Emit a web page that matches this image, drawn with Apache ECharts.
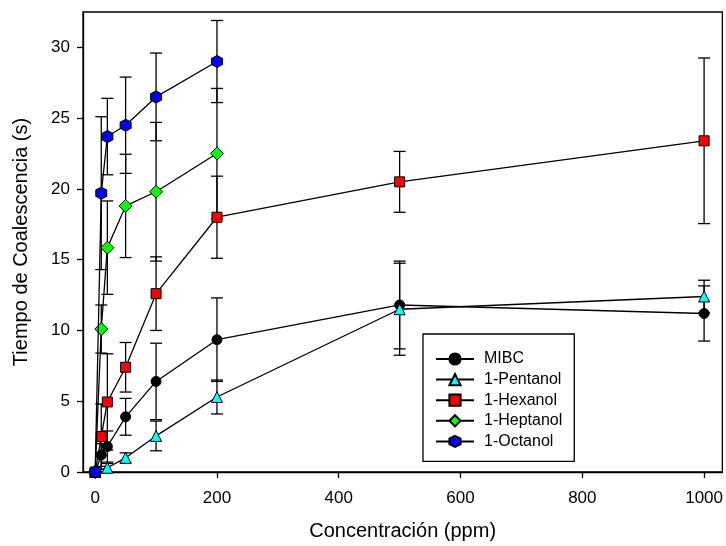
<!DOCTYPE html>
<html>
<head>
<meta charset="utf-8">
<script src="https://cdn.jsdelivr.net/npm/echarts@6/dist/echarts.min.js"></script>
<style>html,body{margin:0;padding:0;background:#fff;}#c{width:726px;height:546px;}</style>
</head>
<body>
<div id="c"></div>
<script>
// ---- data ----
const xTicks = [0, 200, 400, 600, 800, 1000];
const yTicks = [0, 5, 10, 15, 20, 25, 30];
const seriesNames = ['MIBC', '1-Pentanol', '1-Hexanol', '1-Heptanol', '1-Octanol'];

const concMIBC = [0, 10, 20, 50, 100, 200, 500, 1000];
const mibc     = [0, 1.2, 1.8, 3.9, 6.4, 9.35, 11.8, 11.2];
const mibcErr  = [0, 0.8, 1.1, 1.3, 2.7, 2.95, 3.1, 1.95];

const concPent = [0, 20, 50, 100, 200, 500, 1000];
const pent     = [0, 0.3, 1.0, 2.55, 5.3, 11.5, 12.4];
const pentErr  = [0, 0.3, 0.35, 1.05, 1.2, 3.25, 1.15];

const concHex  = [0, 10, 20, 50, 100, 200, 500, 1000];
const hex      = [0, 2.5, 4.95, 7.4, 12.6, 18.0, 20.5, 23.4];
const hexErr   = [0, 2.3, 3.4, 1.75, 2.6, 2.9, 2.15, 5.85];

const concHept = [0, 10, 20, 50, 100, 200];
const hept     = [0, 10.1, 15.85, 18.8, 19.8, 22.5];
const heptErr  = [0, 1.7, 3.3, 3.65, 4.9, 4.6];

const concOct  = [0, 10, 20, 50, 100, 200];
const oct      = [0, 19.7, 23.7, 24.5, 26.5, 29.0];
const octErr   = [0, 5.4, 2.7, 3.4, 3.1, 2.9];

// ---- styles ----
const FONT = '"Liberation Sans", Arial, sans-serif';
const hexagon = 'path://M0,-1 L0.866,-0.5 L0.866,0.5 L0,1 L-0.866,0.5 L-0.866,-0.5 Z';
const groups = [
  {name: seriesNames[0], x: concMIBC, y: mibc, e: mibcErr, color: '#000000', symbol: 'circle', size: 10},
  {name: seriesNames[1], x: concPent, y: pent, e: pentErr, color: '#00ffff', symbol: 'triangle', size: 11},
  {name: seriesNames[2], x: concHex, y: hex, e: hexErr, color: '#ff0000', symbol: 'rect', size: 10},
  {name: seriesNames[3], x: concHept, y: hept, e: heptErr, color: '#00ff00', symbol: 'diamond', size: 13},
  {name: seriesNames[4], x: concOct, y: oct, e: octErr, color: '#0000ff', symbol: hexagon, size: [11, 12]}
];

const series = [];
groups.forEach(function (g) {
  series.push({
    type: 'custom',
    name: g.name + ' err',
    z: 1,
    silent: true,
    data: g.x.map(function (xv, i) { return [xv, g.y[i], g.e[i]]; }),
    renderItem: function (params, api) {
      const xv = api.value(0), yv = api.value(1), ev = api.value(2);
      if (!ev) return null;
      const top = api.coord([xv, yv + ev]);
      const bot = api.coord([xv, yv - ev]);
      const hw = 6;
      const st = {stroke: '#000', lineWidth: 1.3};
      return {
        type: 'group',
        children: [
          {type: 'line', shape: {x1: top[0], y1: top[1], x2: bot[0], y2: bot[1]}, style: st},
          {type: 'line', shape: {x1: top[0] - hw, y1: top[1], x2: top[0] + hw, y2: top[1]}, style: st},
          {type: 'line', shape: {x1: bot[0] - hw, y1: bot[1], x2: bot[0] + hw, y2: bot[1]}, style: st}
        ]
      };
    }
  });
});
groups.forEach(function (g, gi) {
  series.push({
    type: 'line',
    name: g.name,
    z: 3 + gi,
    data: g.x.map(function (xv, i) { return [xv, g.y[i]]; }),
    symbol: g.symbol,
    symbolSize: g.size,
    showAllSymbol: true,
    animation: false,
    lineStyle: {color: '#000', width: 1.3},
    itemStyle: {color: g.color, borderColor: '#000', borderWidth: 1},
    emphasis: {disabled: true}
  });
});

const chart = echarts.init(document.getElementById('c'), null, {renderer: 'canvas'});
chart.setOption({
  animation: false,
  backgroundColor: '#fff',
  textStyle: {fontFamily: FONT},
  grid: {left: 83, right: 3, top: 12, bottom: 73, show: true, borderColor: '#000', borderWidth: 1.3},
  legend: {
    data: seriesNames,
    orient: 'vertical',
    left: 423,
    top: 334,
    padding: [17, 12, 12, 12],
    borderColor: '#000',
    borderWidth: 1.3,
    backgroundColor: '#fff',
    itemWidth: 38,
    itemHeight: 14,
    itemGap: 4.6,
    textStyle: {fontFamily: FONT, fontSize: 16, color: '#000', lineHeight: 16, padding: [0, 0, 0, 5]},
    selectedMode: false
  },
  xAxis: {
    type: 'value',
    min: -20,
    max: 1030,
    name: 'Concentración (ppm)',
    nameLocation: 'middle',
    nameGap: 49,
    nameTextStyle: {fontFamily: FONT, fontSize: 20, color: '#000'},
    splitLine: {show: false},
    axisLine: {show: true, onZero: false, lineStyle: {color: '#000', width: 1.3}},
    axisTick: {show: true, length: 6, customValues: xTicks, lineStyle: {color: '#000', width: 1.3}},
    axisLabel: {customValues: xTicks, margin: 18, fontFamily: FONT, fontSize: 17, color: '#000',
      formatter: function (v) { return String(v); }}
  },
  yAxis: {
    type: 'value',
    min: 0,
    max: 32.5,
    name: 'Tiempo de Coalescencia (s)',
    nameLocation: 'middle',
    nameGap: 52,
    nameTextStyle: {fontFamily: FONT, fontSize: 20, color: '#000'},
    splitLine: {show: false},
    axisLine: {show: true, onZero: false, lineStyle: {color: '#000', width: 1.3}},
    axisTick: {show: true, length: 6, customValues: yTicks, lineStyle: {color: '#000', width: 1.3}},
    axisLabel: {customValues: yTicks, margin: 13, fontFamily: FONT, fontSize: 17, color: '#000',
      formatter: function (v) { return String(v); }}
  },
  series: series
});
</script>
</body>
</html>
